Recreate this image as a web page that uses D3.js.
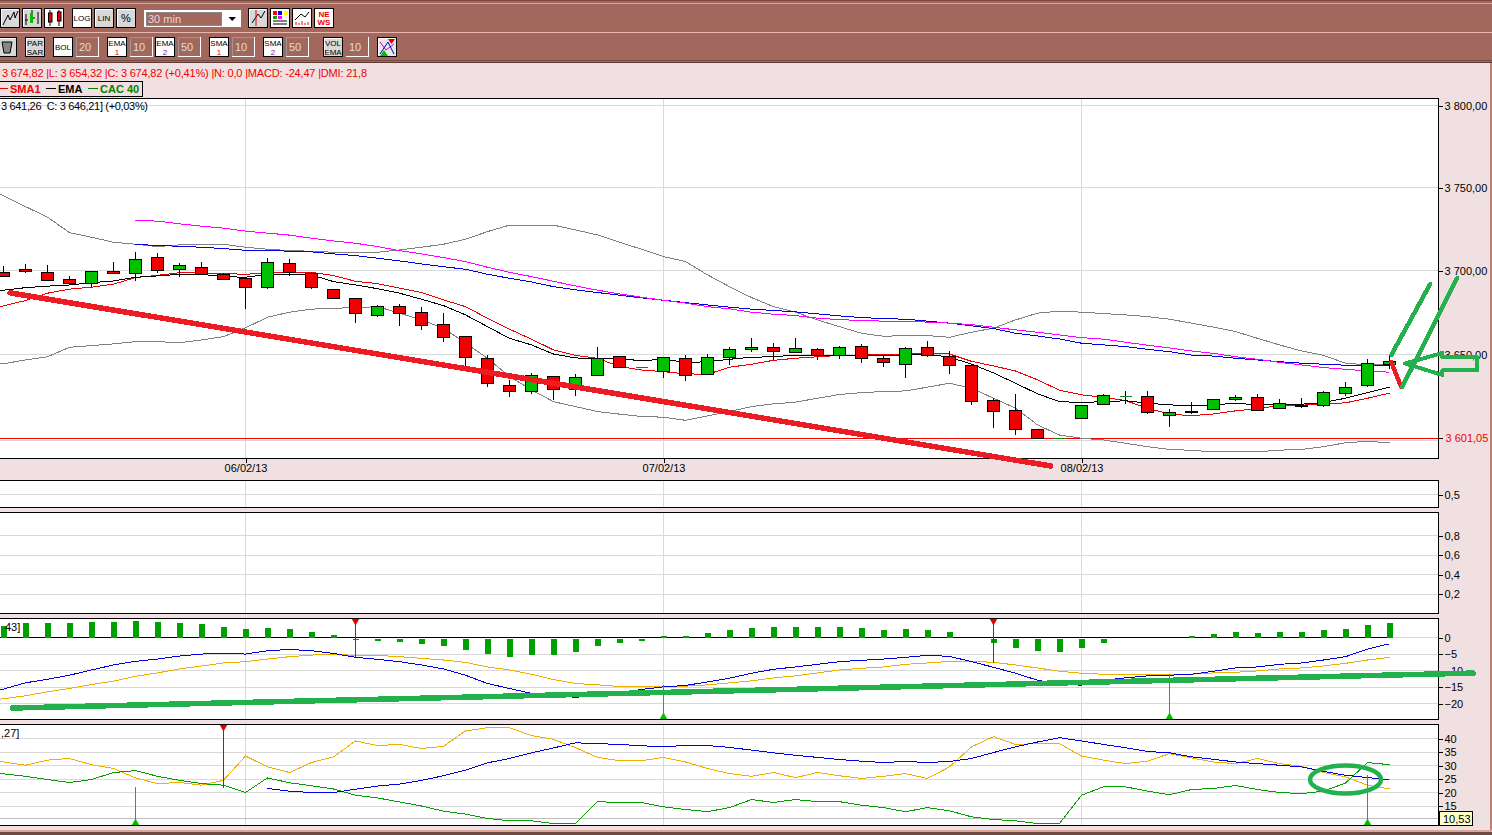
<!DOCTYPE html>
<html><head><meta charset="utf-8">
<script src="https://cdn.jsdelivr.net/npm/d3@7"></script>
<style>
html,body{margin:0;padding:0;background:#f0e0e1;overflow:hidden}
svg{display:block}
text{font-family:"Liberation Sans",Arial,sans-serif}
</style></head><body>
<script>
// ---------- DATA ----------
const dateLabels = ["06/02/13","07/02/13","08/02/13"];
const dateBars = [11,30,49];
const priceTicks = [3800,3750,3700,3650];
const supportLevel = 3601.05;
const panel2Ticks = [0.5];
const panel3Ticks = [0.8,0.6,0.4,0.2];
const macdTicks = [0,-5,-10,-15,-20];
const dmiTicks = [40,35,30,25,20,15];
const dmiLevel = 10.53;

// candles, first bar = 0
const open = [3699.0,3700.8,3699.0,3694.8,3692.4,3699.6,3698.4,3707.9,3700.8,3702.0,3698.0,3695.4,3690.1,3704.3,3698.4,3688.9,3683.5,3673.4,3678.8,3675.2,3668.1,3660.9,3647.9,3632.1,3628.5,3637.3,3629.7,3637.9,3649.1,3642.6,3640.3,3647.9,3638.5,3648.5,3653.2,3654.4,3651.4,3653.2,3649.6,3655.0,3647.9,3644.4,3654.4,3649.1,3643.8,3623.3,3617.4,3606.3,3600.8,3612.7,3620.9,3625.6,3625.6,3614.5,3616.8,3618.0,3623.9,3625.0,3618.6,3620.7,3620.3,3627.4,3632.1,3644.4];
const high = [3702.7,3703.9,3703.3,3696.8,3699.6,3705.1,3711.1,3710.3,3704.3,3705.1,3698.4,3696.4,3707.3,3706.7,3699.0,3688.9,3683.5,3679.4,3680.0,3678.2,3674.6,3660.9,3649.6,3635.2,3639.1,3637.5,3638.7,3654.6,3649.2,3642.6,3648.7,3649.6,3650.2,3654.6,3659.7,3656.8,3659.7,3653.8,3655.0,3656.2,3649.1,3654.4,3658.0,3652.0,3644.4,3624.4,3627.0,3606.3,3600.8,3620.3,3627.0,3628.5,3628.5,3618.0,3622.1,3623.9,3626.2,3626.8,3623.9,3624.4,3628.5,3633.8,3647.3,3649.2];
const low = [3696.2,3698.7,3694.2,3691.3,3690.4,3698.4,3694.0,3698.7,3696.0,3698.0,3694.8,3677.3,3688.9,3696.6,3688.9,3682.9,3669.0,3672.6,3667.2,3664.9,3657.7,3643.0,3630.7,3625.4,3627.1,3623.4,3626.0,3637.9,3642.6,3642.6,3636.5,3634.8,3638.5,3644.1,3651.8,3646.7,3651.4,3646.7,3647.3,3645.3,3643.0,3636.5,3648.8,3638.9,3620.7,3607.2,3603.1,3600.8,3600.8,3612.7,3620.9,3620.9,3615.4,3607.8,3615.1,3618.0,3622.7,3617.4,3618.0,3618.6,3619.2,3626.0,3630.9,3641.4];
const close = [3696.6,3699.6,3694.2,3692.2,3699.6,3698.4,3706.7,3700.2,3703.1,3698.0,3694.8,3690.1,3704.9,3699.0,3690.1,3683.5,3674.6,3678.8,3674.6,3667.5,3660.3,3648.5,3633.2,3628.5,3637.9,3629.7,3636.8,3647.9,3642.6,3642.6,3648.5,3637.9,3648.5,3653.2,3654.4,3652.0,3653.8,3649.6,3654.4,3647.9,3645.5,3653.8,3649.6,3643.8,3622.7,3616.8,3606.3,3600.8,3600.8,3620.3,3626.2,3625.6,3616.2,3616.2,3616.0,3623.9,3625.0,3617.4,3621.5,3620.3,3628.0,3630.9,3645.0,3646.1];

// line series, first entry = bar -1 (just off the left edge)
const bollUpper = [3750.9,3745.1,3738.5,3732.1,3722.8,3720.0,3717.0,3715.8,3714.4,3715.4,3715.8,3715.8,3714.0,3712.8,3712.0,3711.6,3711.0,3711.0,3711.0,3712.4,3714.0,3715.8,3718.8,3723.4,3727.3,3727.3,3727.3,3724.4,3721.4,3717.0,3712.8,3708.4,3705.4,3697.4,3690.4,3683.9,3678.5,3675.2,3670.6,3666.6,3662.7,3660.9,3661.3,3661.3,3660.3,3663.3,3665.7,3670.6,3674.6,3675.8,3675.2,3674.4,3673.6,3672.6,3671.0,3668.7,3666.3,3663.7,3659.7,3655.8,3652.2,3649.6,3645.0,3644.0,3644.0];
const bollLower = [3643.4,3644.7,3646.9,3648.8,3654.4,3655.4,3656.4,3657.7,3657.7,3657.1,3658.7,3660.7,3665.9,3672.2,3675.2,3677.0,3677.6,3677.8,3678.5,3674.6,3670.6,3665.7,3656.8,3647.9,3637.1,3629.3,3622.4,3619.5,3616.6,3615.1,3613.7,3613.3,3611.5,3614.1,3616.6,3619.5,3621.1,3622.1,3624.4,3626.6,3627.7,3628.3,3628.7,3630.9,3633.2,3630.3,3624.4,3618.6,3608.8,3602.9,3601.0,3600.0,3598.1,3596.1,3594.5,3594.0,3593.1,3593.5,3593.1,3594.1,3594.5,3596.1,3598.4,3599.2,3598.4];
const sma1 = [3674.8,3679.0,3682.1,3686.5,3688.9,3690.1,3691.9,3695.8,3697.2,3698.7,3698.7,3698.2,3697.8,3698.6,3699.2,3699.0,3697.0,3693.6,3692.2,3689.5,3686.9,3682.5,3678.5,3671.6,3665.1,3659.2,3652.8,3649.6,3647.9,3643.0,3641.0,3640.0,3638.7,3638.5,3642.6,3644.4,3646.7,3647.9,3648.8,3649.6,3649.8,3650.2,3650.4,3651.2,3650.4,3646.1,3643.4,3640.4,3635.2,3629.1,3626.4,3625.0,3623.0,3618.6,3615.1,3614.2,3615.2,3617.0,3618.3,3620.1,3620.3,3621.1,3621.7,3624.4,3627.4];
const ema1 = [3687.0,3688.3,3689.8,3690.7,3691.4,3692.8,3693.8,3696.0,3696.8,3697.8,3697.8,3696.4,3696.0,3697.8,3697.8,3697.4,3693.4,3691.4,3689.2,3686.5,3682.9,3679.1,3673.6,3666.6,3659.7,3655.8,3650.4,3648.1,3647.7,3647.9,3646.3,3647.5,3645.3,3645.9,3647.3,3648.5,3648.8,3649.8,3649.8,3649.8,3649.8,3649.6,3649.6,3650.4,3648.5,3644.5,3639.3,3633.2,3627.0,3622.4,3621.9,3622.4,3622.9,3621.5,3620.5,3620.1,3620.5,3621.5,3620.5,3620.7,3620.9,3621.9,3624.4,3627.7,3630.9];
const sma2 = [null,null,null,null,null,null,null,3730.3,3729.7,3728.1,3726.7,3725.5,3723.7,3722.5,3721.3,3719.4,3717.8,3716.4,3714.4,3712.0,3710.0,3707.8,3705.4,3702.0,3699.0,3696.4,3693.6,3690.8,3688.3,3686.1,3684.1,3682.3,3680.6,3678.5,3677.2,3675.2,3674.0,3673.2,3671.6,3670.8,3670.2,3669.9,3669.9,3669.3,3668.7,3667.8,3666.3,3664.7,3663.3,3661.7,3660.1,3659.2,3657.4,3655.6,3654.0,3652.2,3650.8,3648.8,3647.3,3645.5,3644.0,3642.4,3641.4,3640.4,3639.7];
const ema2 = [null,null,null,null,null,null,null,3715.8,3715.0,3714.6,3714.0,3713.2,3712.2,3712.2,3711.6,3711.2,3710.0,3709.0,3707.4,3705.8,3704.0,3702.3,3700.8,3697.8,3695.4,3693.2,3690.4,3688.5,3686.9,3685.3,3683.7,3682.3,3680.9,3679.5,3678.2,3677.0,3676.2,3675.4,3674.2,3673.0,3672.0,3671.4,3671.0,3669.9,3668.7,3667.1,3665.5,3662.7,3661.1,3659.3,3656.8,3655.8,3654.8,3653.2,3651.8,3649.8,3649.2,3647.9,3646.9,3645.9,3645.0,3644.4,3643.8,3643.6,3643.6];

// MACD histogram, first bar = 0
const macdHist = [3.4,4.3,4.3,4.3,4.6,4.6,4.9,4.6,4.3,4.0,3.1,2.5,2.8,2.5,1.6,0.7,-0.5,-0.8,-1.1,-1.7,-2.3,-3.5,-4.7,-5.6,-5.0,-5.0,-4.1,-2.3,-1.4,-0.8,0.4,0.4,1.3,2.2,2.8,3.1,3.1,3.1,3.1,2.8,2.2,2.5,2.2,1.6,0,-1.4,-2.9,-3.8,-4.1,-2.9,-1.4,0,0,0,0.4,1.0,1.6,1.3,1.6,1.6,2.2,2.5,3.7,4.3];
const macdLine = [-16.8,-15.6,-13.7,-12.6,-11.4,-9.8,-8.3,-7.2,-6.5,-5.6,-5.0,-4.8,-5.0,-4.0,-3.6,-4.0,-4.8,-6.0,-6.6,-7.3,-8.3,-9.5,-11.4,-13.9,-15.4,-16.9,-17.4,-18.1,-17.4,-16.9,-15.7,-14.9,-14.5,-13.4,-12.3,-10.8,-9.6,-8.9,-8.1,-7.3,-6.9,-6.5,-6.0,-5.4,-5.7,-7.3,-9.0,-10.8,-12.9,-14.1,-14.4,-12.9,-12.2,-11.6,-11.4,-11.1,-10.2,-9.2,-8.9,-8.1,-7.7,-6.8,-5.8,-3.5,-1.9];
const macdSignal = [-19.1,-18.5,-17.6,-16.4,-15.4,-14.2,-13.2,-11.7,-10.7,-9.5,-8.6,-7.7,-7.3,-6.5,-5.8,-5.3,-5.1,-5.4,-5.4,-5.8,-6.3,-6.8,-7.5,-8.9,-9.8,-11.1,-12.7,-13.9,-14.3,-14.8,-14.9,-14.7,-14.7,-14.3,-13.7,-13.1,-12.2,-11.6,-10.7,-9.8,-9.3,-8.9,-8.1,-7.7,-7.2,-7.2,-7.5,-8.3,-9.2,-10.2,-10.8,-11.1,-11.1,-11.1,-11.1,-11.1,-10.7,-10.5,-10.1,-9.5,-9.2,-8.6,-7.8,-6.8,-6.0];

// DMI
const dmiOrange = [32.2,31.3,30.1,32.0,32.6,30.3,28.9,25.4,23.3,23.7,22.7,24.5,33.5,29.5,27.4,31.1,33.2,39.1,37.4,37.8,36.3,37.1,42.8,44.0,44.0,41.1,39.7,36.6,33.0,31.8,31.8,33.0,31.3,28.9,27.0,26.0,27.4,25.5,27.4,26.2,25.2,26.0,27.0,25.2,29.5,36.9,40.7,37.8,38.1,38.1,33.5,32.0,30.7,31.6,34.4,32.8,31.3,30.7,32.6,30.7,29.7,27.4,25.8,22.7,21.3];
const dmiGreen = [27.3,26.9,26.0,24.8,23.7,24.8,27.4,28.1,26.0,24.5,23.3,22.7,20.0,25.4,23.6,22.5,21.3,19.0,18.0,16.5,15.0,13.1,12.0,10.4,9.5,9.5,8.5,8.5,16.6,16.3,16.3,14.7,13.7,12.9,14.4,17.4,16.3,17.4,16.6,16.6,15.3,14.4,12.9,14.4,13.2,11.0,10.0,9.5,8.5,8.5,19.0,22.1,22.1,20.5,19.2,21.1,21.5,22.6,21.1,20.0,19.6,20.5,23.5,31.1,30.3];
const dmiBlue = [null,null,null,null,null,null,null,null,null,null,null,null,null,21.5,20.5,20.0,20.0,21.2,22.4,23.1,24.5,26.2,28.3,31.0,32.6,34.7,36.5,38.4,38.1,37.8,37.3,37.0,37.4,37.4,36.7,35.7,34.7,33.8,33.0,32.2,31.6,31.1,31.5,31.1,31.5,32.6,34.8,36.9,38.7,40.3,39.1,37.8,36.6,35.2,34.7,33.2,32.3,31.3,30.7,30.1,29.5,27.8,26.4,25.5,24.8];

// signal markers: bar index and the indicator value the stem reaches
const macdSell = [[16,-5.9],[45,-7.7]];
const macdBuy = [[30,-14.4],[53,-11.0]];
const dmiSell = [[10,21.7]];
const dmiBuy = [[6,22.1],[62,26.4]];

// hand-drawn annotations, in bar index / indicator value
const trendRed = [[0.3,3686.7],[47.6,3584.9]];
const checkRed = [[63.08,3645.7],[63.53,3631.1]];
const penGreenA = [[63.08,3649.8],[64.85,3692.0]];
const penGreenB = [[63.58,3631.1],[66.08,3695.6]];
const arrowGreen = [[63.71,3644.8],[65.4,3651.0],[65.4,3648.4],[66.99,3648.4],[66.99,3640.7],[65.4,3640.7],[65.4,3638.1]];
const macdPen = [[0.4,-21.3],[66.8,-10.75]];
const dmiCircle = [61.0,24.8];

const headerText = "3 674,82 |L: 3 654,32 |C: 3 674,82 (+0,41%) |N: 0,0 |MACD: -24,47 |DMI: 21,8";
const infoText = "3 641,26  C: 3 646,21] (+0,03%)";

// ---------- LAYOUT ----------
const W=1492,H=835,R=1438.5;
const C={bg:"#f0e0e1",bar:"#a2685e",grid:"#d9d9d9",up:"#00c000",dn:"#f00000",red:"#f00000",blue:"#0000e0",mag:"#ff00ff",gray:"#808080",org:"#f0b000",grn:"#00a000",pen:"#22b14c",penR:"#ed1c24"};
const fr=d3.formatLocale({decimal:",",thousands:" ",grouping:[3],currency:["","€"]});
const svg=d3.select("body").append("svg").attr("width",W).attr("height",H).attr("viewBox",`0 0 ${W} ${H}`);
svg.append("rect").attr("width",W).attr("height",H).attr("fill",C.bg);

const x=d3.scaleLinear().domain([0,63]).range([3.5,1389.5]);
const yP=d3.scaleLog().domain([3800,3600]).range([105.7,440]);
const yA=d3.scaleLinear().domain([0,1]).range([507.5,481.5]);
const yB=d3.scaleLinear().domain([0,1]).range([613.5,516]);
const yM=d3.scaleLinear().domain([0,-20]).range([637.5,703.7]);
const yD=d3.scaleLinear().domain([20,40]).range([792.5,738.5]);

const panels=[
 {t:98.5,b:458.5,y:yP,ticks:priceTicks.concat([3600]),labels:priceTicks,fmt:fr.format(",.2f")},
 {t:480.5,b:507.5,y:yA,ticks:panel2Ticks,labels:panel2Ticks,fmt:fr.format(".1f")},
 {t:512.5,b:613.5,y:yB,ticks:panel3Ticks,labels:panel3Ticks,fmt:fr.format(".1f")},
 {t:618.5,b:719.5,y:yM,ticks:macdTicks,labels:macdTicks,fmt:d3.format("d")},
 {t:724.5,b:825.5,y:yD,ticks:dmiTicks,labels:dmiTicks,fmt:d3.format("d")}
];
panels.forEach((p,i)=>{
 const g=svg.append("g");
 g.append("rect").attr("x",-2).attr("y",p.t).attr("width",R+2).attr("height",p.b-p.t).attr("fill","#fff");
 p.ticks.forEach(t=>g.append("line").attr("x1",0).attr("x2",R).attr("y1",p.y(t)).attr("y2",p.y(t)).attr("stroke",C.grid).attr("shape-rendering","crispEdges"));
 dateBars.forEach(b=>g.append("line").attr("x1",x(b)).attr("x2",x(b)).attr("y1",p.t).attr("y2",p.b).attr("stroke",C.grid).attr("shape-rendering","crispEdges"));
 p.g=g;
});
function frames(){
 panels.forEach(p=>{
  svg.append("rect").attr("x",-2).attr("y",p.t).attr("width",R+2).attr("height",p.b-p.t).attr("fill","none").attr("stroke","#000").attr("shape-rendering","crispEdges");
  const a=svg.append("g").attr("transform",`translate(${R},0)`).call(d3.axisRight(p.y).tickValues(p.labels).tickFormat(p.fmt).tickSize(4).tickPadding(2));
  a.select(".domain").remove();
  a.selectAll("line").attr("shape-rendering","crispEdges");
  a.selectAll("text").attr("font-size",11).attr("font-family","Liberation Sans").attr("fill","#000");
 });
}
const main=panels[0].g, clip=svg.append("clipPath").attr("id","mainclip").append("rect").attr("x",0).attr("y",98).attr("width",R).attr("height",360);
const lineOf=(yS)=>d3.line().defined(d=>d!=null).x((d,i)=>x(i-1)).y(d=>yS(d));
const draw=(g,data,yS,col,w)=>g.append("path").attr("d",lineOf(yS)(data)).attr("fill","none").attr("stroke",col).attr("stroke-width",w||1).attr("shape-rendering","crispEdges");

// support level
main.append("line").attr("x1",0).attr("x2",R).attr("y1",yP(supportLevel)).attr("y2",yP(supportLevel)).attr("stroke",C.red).attr("shape-rendering","crispEdges");
const mg=main.append("g").attr("clip-path","url(#mainclip)");
draw(mg,bollUpper,yP,C.gray);draw(mg,bollLower,yP,C.gray);
draw(mg,ema2,yP,C.blue);draw(mg,sma2,yP,C.mag);
draw(mg,sma1,yP,C.red);draw(mg,ema1,yP,"#000");
// candles
const cg=mg.append("g").attr("shape-rendering","crispEdges");
open.forEach((o,i)=>{
 const c=close[i],cx=x(i),up=c>=o;
 if(high[i]!==low[i]) cg.append("line").attr("x1",cx).attr("x2",cx).attr("y1",yP(high[i])).attr("y2",yP(low[i])).attr("stroke","#000");
 if(o===c){cg.append("line").attr("x1",cx-6).attr("x2",cx+6).attr("y1",yP(o)).attr("y2",yP(o)).attr("stroke","#108010");return;}
 const top=yP(Math.max(o,c)),bot=yP(Math.min(o,c));
 cg.append("rect").attr("x",cx-6).attr("y",Math.round(top)+.5).attr("width",12).attr("height",Math.max(1,Math.round(bot-top))).attr("fill",up?C.up:C.dn).attr("stroke","#000");
});
// MACD
const mp=panels[3].g;
mp.append("line").attr("x1",0).attr("x2",x(63)).attr("y1",yM(0)).attr("y2",yM(0)).attr("stroke","#000").attr("shape-rendering","crispEdges");
mp.append("g").attr("shape-rendering","crispEdges").selectAll("rect").data(macdHist).join("rect")
 .attr("x",(d,i)=>x(i)-2.5).attr("width",6)
 .attr("y",d=>d>=0?yM(d):yM(0)+1).attr("height",d=>Math.abs(yM(d)-yM(0)))
 .attr("fill","#00a000");
draw(mp,macdSignal,yM,C.org);draw(mp,macdLine,yM,C.blue);
// DMI
const dp=panels[4].g;
dp.append("line").attr("x1",0).attr("x2",R).attr("y1",yD(dmiLevel)).attr("y2",yD(dmiLevel)).attr("stroke","#bdbdbd").attr("shape-rendering","crispEdges");
draw(dp,dmiOrange,yD,C.org);draw(dp,dmiGreen,yD,C.grn);draw(dp,dmiBlue,yD,C.blue);

// signal markers
function sell(g,t,yS,list){list.forEach(([b,v])=>{
 g.append("line").attr("x1",x(b)).attr("x2",x(b)).attr("y1",t).attr("y2",yS(v)).attr("stroke","#e00000").attr("shape-rendering","crispEdges");
 g.append("path").attr("d",`M${x(b)-4},${t}L${x(b)+4},${t}L${x(b)},${t+7}Z`).attr("fill","#e00000");});}
function buy(g,bt,yS,list){list.forEach(([b,v])=>{
 g.append("line").attr("x1",x(b)).attr("x2",x(b)).attr("y1",bt).attr("y2",yS(v)).attr("stroke","#00c000").attr("shape-rendering","crispEdges");
 g.append("path").attr("d",`M${x(b)-4},${bt}L${x(b)+4},${bt}L${x(b)},${bt-7}Z`).attr("fill","#00c000");});}
sell(mp,618.5,yM,macdSell);buy(mp,719.5,yM,macdBuy);
sell(dp,724.5,yD,dmiSell);buy(dp,825.5,yD,dmiBuy);

frames();
// 3 601,05 axis label and tick
svg.append("line").attr("x1",R).attr("x2",R+4).attr("y1",yP(supportLevel)).attr("y2",yP(supportLevel)).attr("stroke","#000").attr("shape-rendering","crispEdges");
svg.append("text").attr("x",R+7).attr("y",yP(supportLevel)+4).attr("font-size",11).attr("fill",C.red).text(fr.format(",.2f")(supportLevel));
// date axis
const xa=svg.append("g").attr("transform","translate(0,458.5)").call(d3.axisBottom(x).tickValues(dateBars).tickFormat((d,i)=>dateLabels[i]).tickSize(4).tickPadding(2));
xa.select(".domain").remove();
xa.selectAll("line").attr("shape-rendering","crispEdges");
xa.selectAll("text").attr("font-size",11).attr("font-family","Liberation Sans").attr("fill","#000");

// in-panel labels
svg.append("text").attr("x",1).attr("y",110).attr("font-size",11).attr("fill","#000").attr("textLength",147).attr("xml:space","preserve").style("white-space","pre").text(infoText);
svg.append("text").attr("x",5).attr("y",631).attr("font-size",11).attr("fill","#000").text("43]");
svg.append("text").attr("x",1).attr("y",737).attr("font-size",11).attr("fill","#000").text(",27]");

// DMI value tag
svg.append("line").attr("x1",1473).attr("x2",1489).attr("y1",yD(dmiLevel)).attr("y2",yD(dmiLevel)).attr("stroke","#cfe8e8");
svg.append("rect").attr("x",1439.5).attr("y",811.5).attr("width",33).attr("height",14).attr("fill","#ffffc8").attr("stroke","#000").attr("shape-rendering","crispEdges");
svg.append("text").attr("x",1443).attr("y",822.5).attr("font-size",11).attr("fill","#000").text(fr.format(".2f")(dmiLevel));

// hand-drawn annotations
const pen=(pts,yS,col,w,closed)=>{
 const d=d3.line().x(p=>x(p[0])).y(p=>yS(p[1]))(pts)+(closed?"Z":"");
 svg.append("path").attr("d",d).attr("fill","none").attr("stroke",col).attr("stroke-width",w).attr("stroke-linecap","round").attr("stroke-linejoin","round").attr("shape-rendering","crispEdges");
};
pen(trendRed,yP,C.penR,5.5);
pen(macdPen,yM,C.pen,5.5);
pen(checkRed,yP,C.penR,4.5);
pen(penGreenA,yP,C.pen,4.5);
pen(penGreenB,yP,C.pen,4.5);
pen(arrowGreen,yP,C.pen,4,true);
svg.append("ellipse").attr("cx",x(dmiCircle[0])).attr("cy",yD(dmiCircle[1])).attr("rx",35.5).attr("ry",14).attr("fill","none").attr("stroke",C.pen).attr("stroke-width",4.5);

// header texts
svg.append("text").attr("x",2).attr("y",77).attr("font-size",11).attr("fill",C.red).attr("textLength",365).text(headerText);
svg.append("rect").attr("x",-2).attr("y",81.5).attr("width",144.5).attr("height",15).attr("fill",C.bg).attr("stroke","#000").attr("shape-rendering","crispEdges");
[[0,8,"#f00000","SMA1",10],[46,56,"#000","EMA",58],[88,98,"#008000","CAC 40",100]].forEach(([a,b,c,t,tx])=>{
 svg.append("line").attr("x1",a).attr("x2",b).attr("y1",88.5).attr("y2",88.5).attr("stroke",c).attr("shape-rendering","crispEdges");
 svg.append("text").attr("x",tx).attr("y",93).attr("font-size",11).attr("font-weight","bold").attr("fill",c).text(t);
});

// ---------- TOOLBAR ----------
const tb=svg.append("g");
tb.append("rect").attr("width",W).attr("height",63).attr("fill",C.bar);
[[0,"#7a4a42"],[3,"#d8a89e"],[32,"#e8b8ae"],[60,"#7a4a42"],[62,"#5c3a34"]].forEach(([y,c])=>tb.append("line").attr("x1",0).attr("x2",W).attr("y1",y+.5).attr("y2",y+.5).attr("stroke",c).attr("shape-rendering","crispEdges"));
function btn(bx,by,w,h,fill){
 const g=tb.append("g");
 g.append("rect").attr("x",bx+.5).attr("y",by+.5).attr("width",w-1).attr("height",h-1).attr("fill",fill||"#d8d8d8").attr("stroke","#000").attr("shape-rendering","crispEdges");
 g.append("path").attr("d",`M${bx+1.5},${by+h-2}V${by+1.5}H${bx+w-2}`).attr("fill","none").attr("stroke","#fff").attr("shape-rendering","crispEdges");
 g.append("path").attr("d",`M${bx+w-.5},${by+1}V${by+h-.5}H${bx+1}`).attr("fill","none").attr("stroke","#000").attr("stroke-width",1.5).attr("shape-rendering","crispEdges");
 return g;
}
function lbl(cx,cy,t,c,size,weight){tb.append("text").attr("x",cx).attr("y",cy).attr("text-anchor","middle").attr("font-size",size||9).attr("font-family","DejaVu Sans").attr("font-weight",weight||"normal").attr("fill",c||"#000").text(t);}
// row 1
btn(0,8,20,20); tb.append("path").attr("d","M3,25L8,15L10,20L14,12L15,18L18,11").attr("fill","none").attr("stroke","#000");
btn(22,8,20,20,"#d8d8d8"); tb.append("path").attr("d","M26,14V25M25,20H28M32,10V22M30,18H35M38,12V24").attr("stroke","#000").attr("fill","none");
tb.append("rect").attr("x",30).attr("y",13).attr("width",3).attr("height",10).attr("fill",C.up);
btn(44,8,20,20,"#fff"); tb.append("path").attr("d","M50,10V26M59,10V26").attr("stroke","#000");
tb.append("rect").attr("x",48.5).attr("y",13).attr("width",3.5).attr("height",9).attr("fill",C.dn).attr("stroke","#000");
tb.append("rect").attr("x",57.5).attr("y",12).attr("width",3.5).attr("height",9).attr("fill",C.dn).attr("stroke","#000");
btn(72,8,20,20,"#fff"); lbl(82,21,"LOG",null,8);
btn(94,8,20,20); lbl(104,21,"LIN",null,8);
btn(116,8,20,20); lbl(126,22,"%",null,11);
// dropdown
tb.append("rect").attr("x",144).attr("y",10).attr("width",97).attr("height",17).attr("fill","#fff");
tb.append("rect").attr("x",146).attr("y",12).attr("width",75).attr("height",13).attr("fill",C.bar).attr("stroke","#888").attr("shape-rendering","crispEdges");
tb.append("text").attr("x",148).attr("y",22.5).attr("font-size",11).attr("fill","#e8d8d0").text("30 min");
tb.append("path").attr("d","M228.5,17H236L232.2,21Z").attr("fill","#000");
// chart icons
btn(248,8,20,20); tb.append("path").attr("d","M252,23L258,14L261,18L265,11").attr("fill","none").attr("stroke","#000");
tb.append("line").attr("x1",256).attr("x2",256).attr("y1",10).attr("y2",26).attr("stroke",C.red);
btn(270,8,20,20,"#fff");
[[273,"#f00"],[278,"#00f"],[284,"#ff0"]].forEach(([a,c])=>tb.append("rect").attr("x",a).attr("y",11).attr("width",4).attr("height",4).attr("fill",c));
tb.append("rect").attr("x",273).attr("y",16).attr("width",4).attr("height",3).attr("fill","#0a0");tb.append("rect").attr("x",278).attr("y",16).attr("width",4).attr("height",3).attr("fill","#f0f");
tb.append("path").attr("d","M273,21H287M273,24H287").attr("stroke","#000");
btn(292,8,20,20,"#fff"); tb.append("path").attr("d","M295,20L301,14L305,17L309,12").attr("fill","none").attr("stroke","#000");
tb.append("path").attr("d","M296,25V22M299,25V23M302,25V21M305,25V23M308,25V22").attr("stroke",C.red);
btn(314,8,20,20,"#fff"); lbl(324,17,"NE",C.red,8,"bold"); lbl(324,25,"WS",C.red,8,"bold");
// row 2
btn(-4,37,21,20); tb.append("path").attr("d","M2,42H12L10,53H4Z").attr("fill","#888").attr("stroke","#000");
btn(25,37,20,20); lbl(35,46,"PAR",null,8); lbl(35,55,"SAR",null,8);
const rows=[[53,"BOL",null,"20"],[107,"EMA","1","10"],[155,"EMA","2","50"],[209,"SMA","1","10"],[263,"SMA","2","50"]];
rows.forEach(([bx,a,b,v])=>{
 btn(bx,37,20,20,"#fff");
 if(b){lbl(bx+10,46,a,null,8);lbl(bx+10,55,b,b==="1"?C.red:"#a000a0",8);}
 else lbl(bx+10,50,a,null,8);
 const ix=bx+23;
 tb.append("rect").attr("x",ix).attr("y",37).attr("width",23).attr("height",20).attr("fill","#fff");
 tb.append("rect").attr("x",ix).attr("y",37).attr("width",22).attr("height",19).attr("fill",C.bar);
 tb.append("path").attr("d",`M${ix+.5},56V37.5H${ix+22}`).attr("stroke","#999").attr("fill","none");
 tb.append("text").attr("x",ix+3).attr("y",51).attr("font-size",11).attr("fill","#e8d8d0").text(v);
});
btn(323,37,20,20); lbl(333,46,"VOL",null,8); lbl(333,55,"EMA",null,8);
tb.append("rect").attr("x",346).attr("y",37).attr("width",23).attr("height",20).attr("fill","#fff");
tb.append("rect").attr("x",346).attr("y",37).attr("width",22).attr("height",19).attr("fill",C.bar);
tb.append("text").attr("x",349).attr("y",51).attr("font-size",11).attr("fill","#e8d8d0").text("10");
btn(377,37,20,20,"#e8e8e8");
tb.append("path").attr("d","M380,42L386,50L394,44").attr("fill","none").attr("stroke","#d000d0");
tb.append("path").attr("d","M380,54L388,42L394,54").attr("fill","none").attr("stroke","#0000d0");
tb.append("path").attr("d","M388,39H395L391.5,44Z").attr("fill","#e00000");
tb.append("path").attr("d","M380,56H388L384,50Z").attr("fill","#00c000");

// window edge
svg.append("rect").attr("x",1490).attr("y",63).attr("width",2).attr("height",H-63).attr("fill","#c08070");
svg.append("rect").attr("x",0).attr("y",830).attr("width",W).attr("height",2).attr("fill","#d8a89e");
svg.append("rect").attr("x",0).attr("y",832).attr("width",W).attr("height",3).attr("fill","#6e4a42");
</script>
</body></html>
